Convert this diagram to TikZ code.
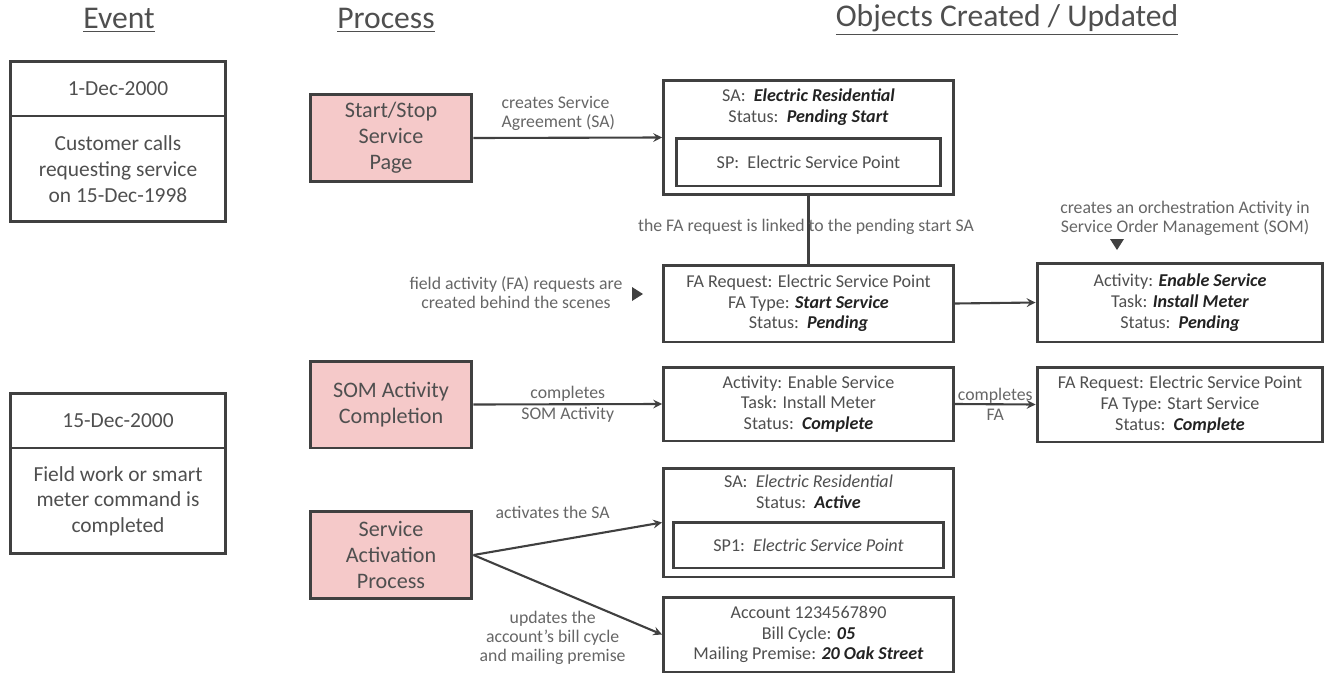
\documentclass[tikz,border=0pt]{standalone}
\usepackage{fontspec}
\setmainfont{Carlito}
\usepackage{xcolor}
\usetikzlibrary{shapes.geometric, arrows, positioning}

\definecolor{boxline}{HTML}{404040}
\definecolor{txtgray}{HTML}{4F4F4F}
\definecolor{lblgray}{HTML}{666666}
\definecolor{procpink}{HTML}{F5C9C9}
\definecolor{darktxt}{HTML}{222222}

\newcommand{\bival}[1]{\textcolor{darktxt}{\textbf{\textit{#1}}}}

\begin{document}
\begin{tikzpicture}[
    x=0.02cm, y=-0.02cm,
    font=\fontsize{10.3}{11.8}\selectfont,
    header/.style={text=txtgray, font=\fontsize{18}{21}\selectfont},
    datebox/.style={draw=boxline, line width=1.7pt, outer sep=0pt, minimum width=4.32cm, minimum height=1.1cm, text=txtgray, font=\fontsize{12.2}{14.6}\selectfont},
    descbox/.style={datebox, minimum height=2.12cm, align=center},
    procbox/.style={draw=boxline, line width=1.7pt, fill=procpink, minimum width=3.24cm, minimum height=1.74cm, align=center, text=txtgray, font=\fontsize{12.6}{14.8}\selectfont},
    objbox/.style={draw=boxline, line width=1.7pt, minimum width=5.8cm, align=center, text=txtgray},
    innerbox/.style={draw=boxline, line width=1.7pt, align=center, text=txtgray},
    lbl/.style={text=lblgray, align=center, font=\fontsize{10.1}{10.8}\selectfont},
    midlbl/.style={lbl, font=\fontsize{10.1}{11.5}\selectfont, inner sep=0pt},
    msg/.style={draw=boxline, line width=1.2pt, ->, >=stealth}
]
\useasboundingbox (0,0) rectangle (1330,673);

% Headers
\node[header] (hevent) at (119,20) {\underline{Event}};
\node[header] (hproc) at (386,20) {\underline{Process}};
\node[header] (hobj) at (1007,20) {\underline{Objects Created / Updated}};

% Events
\node[datebox] (ev1date) at (118,88.5) {1-Dec-2000};
\node[descbox, below=0pt of ev1date] (ev1desc) {Customer calls\\requesting service\\on 15-Dec-1998};
\node[datebox] (ev2date) at (118,420.5) {15-Dec-2000};
\node[descbox, below=0pt of ev2date] (ev2desc) {Field work or smart\\meter command is\\completed};

% Processes
\node[procbox] (startstop) at (391,138) {Start/Stop\\Service\\Page};
\node[procbox] (somdone) at (391,404.5) {SOM Activity\\Completion};
\node[procbox] (svcact) at (391,555) {Service\\Activation\\Process};

% Objects
\node[objbox, minimum height=2.3cm] (sapend) at (808.5,137.5) {};
\node[text=txtgray, align=center] (sapendtxt) at (808.5,107) {SA:\ \ \bival{Electric Residential}\\Status:\ \ \bival{Pending Start}};
\node[innerbox, minimum width=5.3cm, minimum height=0.96cm] (sppend) at (808.5,162) {SP:\ \ Electric Service Point};

\node[objbox, minimum height=1.54cm] (fareq) at (808.5,303.5) {FA Request: Electric Service Point\\FA Type: \bival{Start Service}\\Status:\ \ \bival{Pending}};
\node[objbox, minimum width=5.72cm, minimum height=1.58cm] (somact) at (1180,302.5) {Activity: \bival{Enable Service}\\Task: \bival{Install Meter}\\Status:\ \ \bival{Pending}};

\node[objbox, minimum height=1.48cm] (actdone) at (808.5,404) {Activity: Enable Service\\Task: Install Meter\\Status:\ \ \bival{Complete}};
\node[objbox, minimum width=5.72cm, minimum height=1.5cm] (fadone) at (1180,404.5) {FA Request: Electric Service Point\\FA Type: Start Service\\Status:\ \ \bival{Complete}};

\node[objbox, minimum height=2.18cm] (saact) at (808.5,522.5) {};
\node[text=txtgray, align=center] (saacttxt) at (808.5,492) {SA:\ \ \textit{Electric Residential}\\Status:\ \ \bival{Active}};
\node[innerbox, minimum width=5.4cm, minimum height=0.92cm] (spact) at (808.5,545) {SP1:\ \ \textit{Electric Service Point}};

\node[objbox, minimum height=1.5cm] (acct) at (808.5,634.5) {Account 1234567890\\Bill Cycle: \bival{05}\\Mailing Premise: \bival{20 Oak Street}};

% Side notes
\node[lbl] (fanote) at (516,293) {field activity (FA) requests are\\created behind the scenes};
\coordinate (fatip) at (643,294);
\fill[boxline] (fatip) -- ++(-11,-7) -- ++(0,14) -- cycle;

\node[lbl] (somnote) at (1185,218) {creates an orchestration Activity in\\Service Order Management (SOM)};
\coordinate (somtip) at (1117,250);
\fill[boxline] (somtip) -- ++(-7,-11) -- ++(14,0) -- cycle;

% Connectors
\draw[msg] (startstop.east) -- node[lbl, above, pos=0.45, align=left] (salbl) {creates Service\\Agreement (SA)} (sapend.west);
\draw[draw=boxline, line width=1.2pt] (sapend.south) -- (fareq.north);
\node[lbl] (linklbl) at (806,227) {the FA request is linked to the pending start SA};
\draw[msg] (fareq.east) -- (somact.west);

\draw[msg] (somdone.east) -- node[midlbl] (somlbl) {completes\\SOM Activity} (actdone.west);
\draw[msg] (actdone.east) -- node[midlbl] (falbl) {completes\\FA} (fadone.west);

\draw[msg] (svcact.east) -- node[lbl, pos=0.42, above=9pt] (actlbl) {activates the SA} (saact.west);
\draw[msg] (svcact.east) -- node[lbl, pos=0.42, below=9pt] (acctlbl) {updates the\\account’s bill cycle\\and mailing premise} (acct.west);

\end{tikzpicture}
\end{document}
